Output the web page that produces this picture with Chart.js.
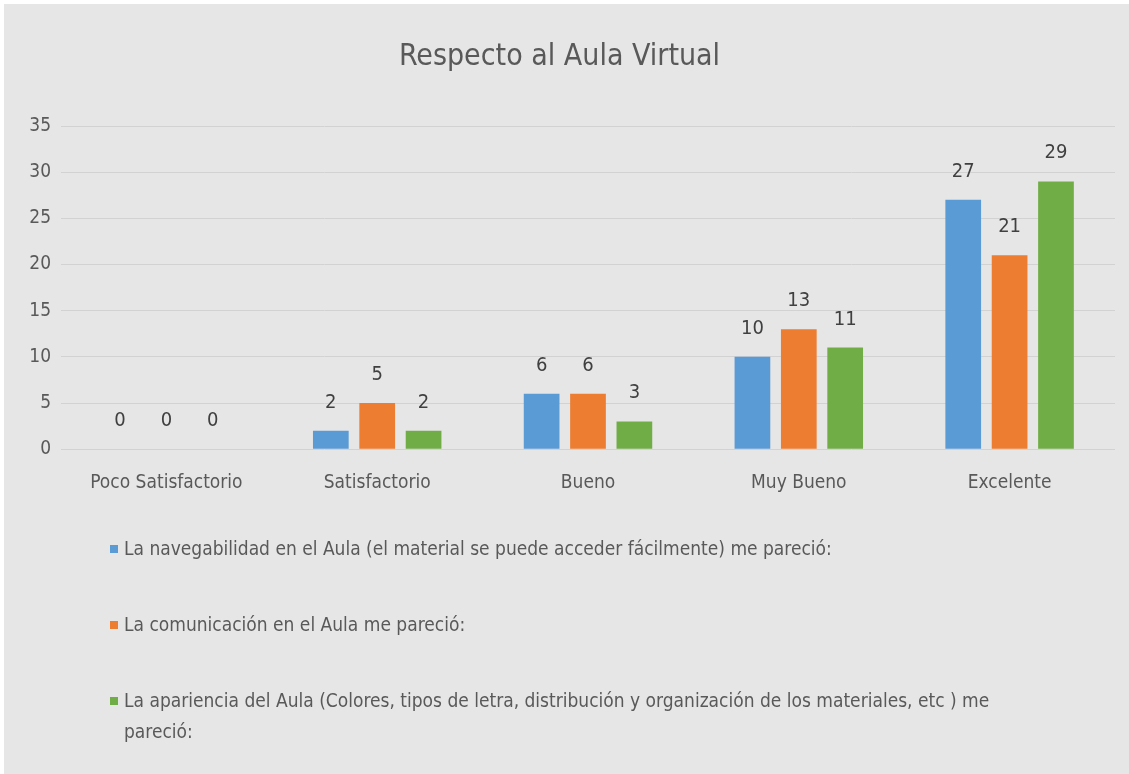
<!DOCTYPE html>
<html>
<head>
<meta charset="utf-8">
<script src="https://cdn.jsdelivr.net/npm/chart.js@4/dist/chart.umd.min.js"></script>
<style>
  body { margin: 0; background: #fff; }
  #box { position: absolute; left: 4px; top: 4px; width: 1125px; height: 770px; background: #e6e6e6; }
  #legend { position: absolute; left: 106px; top: 529px; font-family: "Liberation Sans Narrow", "DejaVu Sans Condensed", sans-serif; font-size: 19px; color: #595959; }
  .item { display: flex; align-items: flex-start; height: 76px; line-height: 31px; }
  .mark { width: 8px; height: 8px; margin: 12px 6px 0 0; flex: none; }
  .txt { width: 900px; }
</style>
</head>
<body>
<div id="box">
  <canvas id="canvas" width="1125" height="770"></canvas>
  <div id="legend"></div>
</div>
<script>
// categories and values
let categories = ['Poco Satisfactorio', 'Satisfactorio', 'Bueno', 'Muy Bueno', 'Excelente'];
let navegabilidad = [0, 2, 6, 10, 27];
let comunicacion = [0, 5, 6, 13, 21];
let apariencia = [0, 2, 3, 11, 29];
let seriesNames = [
  'La navegabilidad en el Aula (el material se puede acceder fácilmente) me pareció:',
  'La comunicación en el Aula me pareció:',
  'La apariencia del Aula (Colores, tipos de letra, distribución y organización de los materiales, etc ) me pareció:'
];
let yTicks = [0, 5, 10, 15, 20, 25, 30, 35];

const font = '"Liberation Sans Narrow", "DejaVu Sans Condensed", sans-serif';
const grey = '#595959';

// value labels above each bar
const barLabels = {
  id: 'barLabels',
  afterDatasetsDraw(chart) {
    const ctx = chart.ctx;
    ctx.save();
    ctx.font = '20px ' + font;
    ctx.fillStyle = '#404040';
    ctx.textAlign = 'center';
    ctx.textBaseline = 'alphabetic';
    chart.data.datasets.forEach((ds, i) => {
      chart.getDatasetMeta(i).data.forEach((bar, j) => {
        ctx.fillText(ds.data[j], bar.x, bar.y - 23);
      });
    });
    ctx.restore();
  }
};

let chart = new Chart(document.getElementById('canvas'), {
  type: 'bar',
  data: {
    labels: categories,
    datasets: [
      { label: seriesNames[0], data: navegabilidad, backgroundColor: '#5b9bd5' },
      { label: seriesNames[1], data: comunicacion, backgroundColor: '#ed7d31' },
      { label: seriesNames[2], data: apariencia, backgroundColor: '#70ad47' }
    ]
  },
  options: {
    responsive: false,
    animation: false,
    categoryPercentage: 0.66,
    barPercentage: 0.77,
    layout: { padding: { left: 0, right: 14, top: 0, bottom: 258 } },
    plugins: {
      legend: { display: false },
      tooltip: { enabled: false },
      title: {
        display: true,
        text: 'Respecto al Aula Virtual',
        color: grey,
        font: { family: font, size: 30, weight: 'normal' },
        padding: { top: 35, bottom: 51 }
      }
    },
    scales: {
      x: {
        grid: { display: false, drawTicks: false },
        border: { display: false },
        ticks: { color: grey, font: { family: font, size: 19 }, padding: 22, maxRotation: 0 }
      },
      y: {
        min: 0,
        max: 35,
        afterFit: s => { s.width = 57; },
        afterBuildTicks: s => { s.ticks = yTicks.map(v => ({ value: v })); },
        grid: { color: '#d2d2d2', lineWidth: 1, drawTicks: false },
        border: { display: false },
        ticks: { color: grey, font: { family: font, size: 19 }, padding: 10 }
      }
    }
  },
  plugins: [barLabels]
});

// legend below the chart, one series per row
let legend = document.getElementById('legend');
chart.data.datasets.forEach(ds => {
  let item = document.createElement('div');
  item.className = 'item';
  let mark = document.createElement('span');
  mark.className = 'mark';
  mark.style.background = ds.backgroundColor;
  let txt = document.createElement('span');
  txt.className = 'txt';
  txt.textContent = ds.label;
  item.appendChild(mark);
  item.appendChild(txt);
  legend.appendChild(item);
});
</script>
</body>
</html>
